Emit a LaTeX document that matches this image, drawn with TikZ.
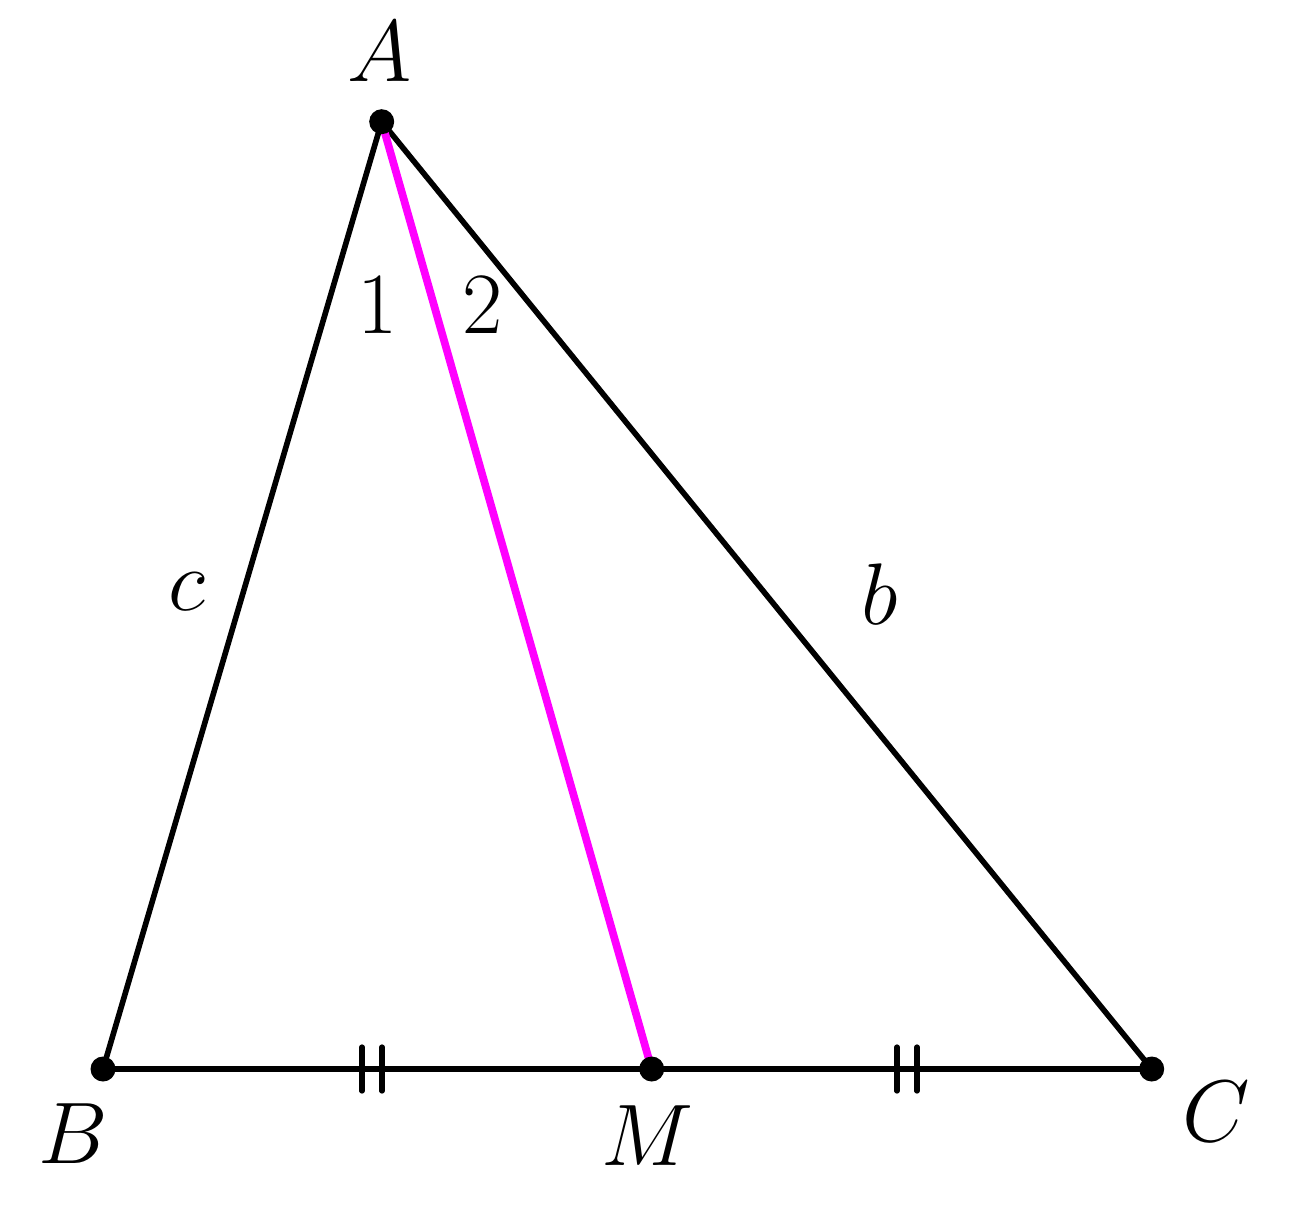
\documentclass[tikz,border=0pt]{standalone}
\begin{document}
\begin{tikzpicture}[
  edge/.style={line width=1.6pt, line cap=round},
  median/.style={line width=2.2pt, draw={rgb,255:red,255;green,0;blue,255}},
  tick/.style={line width=1.5pt, line cap=round},
  dot/.style={circle, fill=black, inner sep=0pt, minimum size=0.25cm},
  lab/.style={font=\fontsize{23}{27}\selectfont, inner sep=0pt}
]
\useasboundingbox (0,0) rectangle (12.99,12.11);
\coordinate (A) at (3.817,10.893);
\coordinate (B) at (1.03,1.42);
\coordinate (M) at (6.517,1.42);
\coordinate (C) at (11.517,1.42);
\draw[edge] (A) -- (B);
\draw[edge] (A) -- (C);
\draw[edge] (B) -- (C);
\draw[median] (A) -- (M);
\coordinate (t1) at (3.62,1.42);
\coordinate (t2) at (3.82,1.42);
\coordinate (t3) at (8.97,1.42);
\coordinate (t4) at (9.17,1.42);
\foreach \t in {t1,t2,t3,t4}{
  \draw[tick] ([yshift=-0.22cm]\t) -- ([yshift=0.22cm]\t);
}
\node[dot] (dA) at (A) {};
\node[dot] (dB) at (B) {};
\node[dot] (dM) at (M) {};
\node[dot] (dC) at (C) {};
\node[lab] (lA) at (3.80,11.59) {$A$};
\node[lab] (lB) at (0.73,0.77) {$B$};
\node[lab] (lM) at (6.47,0.75) {$M$};
\node[lab] (lC) at (12.16,0.99) {$C$};
\node[lab] (l1) at (3.78,9.06) {$1$};
\node[lab] (l2) at (4.83,9.06) {$2$};
\node[lab] (lc) at (1.87,6.19) {$c$};
\node[lab] (lb) at (8.80,6.17) {$b$};
\end{tikzpicture}
\end{document}
